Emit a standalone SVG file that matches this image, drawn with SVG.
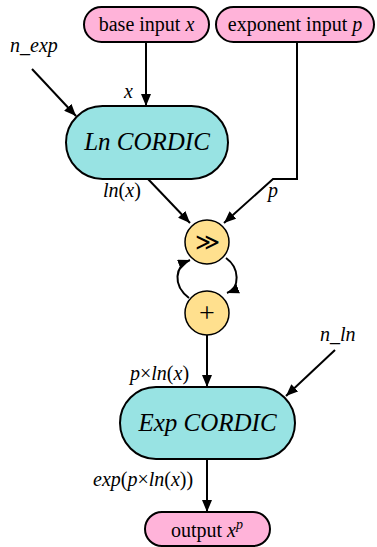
<svg xmlns="http://www.w3.org/2000/svg" width="377" height="547" viewBox="0 0 377 547">
<defs>
<marker id="ah" viewBox="0 0 12 10" refX="12" refY="5" markerWidth="12" markerHeight="10" markerUnits="userSpaceOnUse" orient="auto">
<path d="M0,0 L12,5 L0,10 z" fill="#000"/>
</marker>
</defs>
<rect width="377" height="547" fill="#fff"/>
<g id="connectors" fill="none" stroke="#000" stroke-width="2" marker-end="url(#ah)">
<path d="M146,43 V106"/>
<path d="M32,69 L76,116"/>
<path d="M297,43 V179 H273 L224,223"/>
<path d="M148,179 L190,223"/>
<path d="M189,298 C172,285 175,266 190,260"/>
<path d="M226,258 C240,268 240,288 227,293"/>
<path d="M207,335 V387"/>
<path d="M335,350 L286,396"/>
<path d="M207,459 V512"/>
</g>
<g id="labels" font-size="20" fill="#000">
<text font-family="Times New Roman, Liberation Serif, Times, serif" font-style="italic" x="10" y="52">n_exp</text>
<text font-family="Times New Roman, Liberation Serif, Times, serif" font-style="italic" x="124" y="98">x</text>
<text font-family="Times New Roman, Liberation Serif, Times, serif" x="103" y="197"><tspan font-style="italic">ln</tspan>(<tspan font-style="italic">x</tspan>)</text>
<text font-family="Times New Roman, Liberation Serif, Times, serif" font-style="italic" x="268" y="197">p</text>
<text font-family="Times New Roman, Liberation Serif, Times, serif" x="130" y="380"><tspan font-style="italic">p</tspan>&#215;<tspan font-style="italic">ln</tspan>(<tspan font-style="italic">x</tspan>)</text>
<text font-family="Times New Roman, Liberation Serif, Times, serif" font-style="italic" x="320" y="341">n_ln</text>
<text font-family="Times New Roman, Liberation Serif, Times, serif" x="93" y="486"><tspan font-style="italic">exp</tspan>(<tspan font-style="italic">p</tspan>&#215;<tspan font-style="italic">ln</tspan>(<tspan font-style="italic">x</tspan>))</text>
</g>
<g id="base">
<rect fill="#ffb3d9" stroke="#000" stroke-width="2" x="84" y="7" width="125" height="35" rx="17.5"/>
<text font-family="Times New Roman, Liberation Serif, Times, serif" font-size="20" x="146.5" y="31" text-anchor="middle">base input <tspan font-style="italic">x</tspan></text>
</g>
<g id="exponent">
<rect fill="#ffb3d9" stroke="#000" stroke-width="2" x="216" y="7" width="158" height="35" rx="17.5"/>
<text font-family="Times New Roman, Liberation Serif, Times, serif" font-size="20" x="295" y="31" text-anchor="middle">exponent input <tspan font-style="italic">p</tspan></text>
</g>
<g id="ln">
<rect fill="#98e3e3" stroke="#000" stroke-width="2" x="66" y="106" width="162" height="73" rx="36.5"/>
<text font-family="Times New Roman, Liberation Serif, Times, serif" font-size="25" font-style="italic" x="147" y="150" text-anchor="middle">Ln CORDIC</text>
</g>
<g id="shift">
<circle fill="#ffe08e" stroke="#000" stroke-width="1.5" cx="207" cy="242" r="22"/>
<text font-family="Times New Roman, Liberation Serif, Times, serif" font-size="24" x="207" y="250" text-anchor="middle">&#8811;</text>
</g>
<g id="add">
<circle fill="#ffe08e" stroke="#000" stroke-width="1.5" cx="207" cy="313" r="22"/>
<text font-family="Times New Roman, Liberation Serif, Times, serif" font-size="28" x="207" y="322" text-anchor="middle">+</text>
</g>
<g id="exp">
<rect fill="#98e3e3" stroke="#000" stroke-width="2" x="120" y="387" width="175" height="72" rx="36"/>
<text font-family="Times New Roman, Liberation Serif, Times, serif" font-size="25" font-style="italic" x="207.5" y="431" text-anchor="middle">Exp CORDIC</text>
</g>
<g id="output">
<rect fill="#ffb3d9" stroke="#000" stroke-width="2" x="145" y="512" width="125" height="34" rx="17"/>
<text font-family="Times New Roman, Liberation Serif, Times, serif" font-size="20" x="207" y="537" text-anchor="middle">output <tspan font-style="italic">x</tspan><tspan font-style="italic" font-size="14" dy="-8">p</tspan></text>
</g>
</svg>
